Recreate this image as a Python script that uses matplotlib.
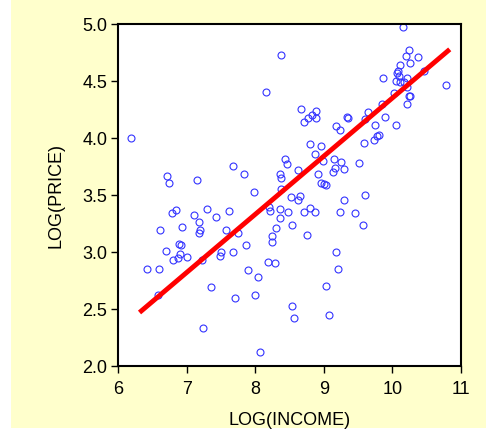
import numpy as np
import matplotlib
matplotlib.use("Agg")
import matplotlib.pyplot as plt
from matplotlib.patches import Rectangle

plt.rcParams['font.family'] = ['Liberation Sans', 'DejaVu Sans']

# points
log_income = [6.19, 8.38, 8.15, 7.68, 7.84, 6.71, 6.74, 7.15, 7.98, 8.44,
              8.47, 8.36, 8.37, 8.38, 10.16, 10.24, 10.20, 10.37, 10.26, 10.11,
              10.09, 10.07, 10.10, 10.06, 10.12, 10.21, 10.17, 10.21, 10.47, 9.86,
              10.79, 10.03, 10.26, 10.25, 10.21, 9.85, 9.65, 9.60, 9.90, 9.75,
              10.05, 9.80, 9.78, 9.74, 9.59, 9.52, 9.60, 8.67, 8.88, 8.77,
              8.83, 8.89, 8.71, 9.35, 9.34, 9.18, 9.24, 8.80, 8.96, 8.87,
              8.63, 8.91, 8.99, 9.15, 9.25, 9.17, 9.14, 9.30, 8.96, 9.00,
              9.03, 8.52, 8.66, 8.62, 9.29, 8.20, 8.21, 8.36, 8.48, 8.71,
              8.80, 8.87, 9.24, 9.45, 8.36, 8.53, 8.30, 8.25, 8.25, 8.75,
              9.58, 7.75, 7.86, 7.68, 9.18, 9.21, 9.03, 8.54, 8.57, 9.07,
              6.78, 6.84, 7.11, 7.30, 7.43, 7.61, 7.18, 7.18, 7.20, 6.61,
              6.93, 7.58, 6.88, 6.91, 6.70, 6.90, 6.87, 6.80, 7.01, 7.22,
              7.50, 7.48, 6.42, 6.59, 7.89, 8.04, 8.18, 8.29, 6.58, 7.35,
              7.71, 7.99, 7.23, 8.07]
log_price = [4.00, 4.73, 4.41, 3.76, 3.69, 3.67, 3.61, 3.63, 3.53, 3.82,
             3.77, 3.69, 3.65, 3.55, 4.98, 4.77, 4.72, 4.71, 4.66, 4.64,
             4.59, 4.57, 4.55, 4.50, 4.49, 4.53, 4.49, 4.45, 4.59, 4.53,
             4.47, 4.40, 4.37, 4.37, 4.30, 4.30, 4.23, 4.17, 4.19, 4.12,
             4.12, 4.03, 4.02, 3.98, 3.96, 3.78, 3.50, 4.26, 4.24, 4.18,
             4.20, 4.18, 4.14, 4.18, 4.19, 4.11, 4.07, 3.95, 3.93, 3.86,
             3.72, 3.69, 3.80, 3.82, 3.79, 3.74, 3.70, 3.73, 3.61, 3.60,
             3.59, 3.48, 3.49, 3.46, 3.46, 3.40, 3.36, 3.38, 3.35, 3.35,
             3.39, 3.35, 3.35, 3.34, 3.30, 3.24, 3.21, 3.14, 3.09, 3.15,
             3.24, 3.17, 3.06, 3.00, 3.00, 2.85, 2.70, 2.53, 2.42, 2.45,
             3.34, 3.37, 3.33, 3.38, 3.31, 3.36, 3.26, 3.17, 3.19, 3.19,
             3.22, 3.19, 3.07, 3.06, 3.01, 2.98, 2.95, 2.93, 2.96, 2.93,
             3.00, 2.97, 2.85, 2.85, 2.84, 2.78, 2.91, 2.90, 2.62, 2.69,
             2.60, 2.62, 2.33, 2.12]

# fitted line ends as drawn
fit_x = [6.31, 10.84]
fit_y = [2.47, 4.78]

x_ticks = [6, 7, 8, 9, 10, 11]
y_ticks = [2.0, 2.5, 3.0, 3.5, 4.0, 4.5, 5.0]

fig = plt.figure(figsize=(4.86, 4.30), dpi=100)
fig.patch.set_facecolor('white')
fig.patches.append(Rectangle((11/486, 0.005), 1, 1, transform=fig.transFigure,
                             facecolor='#FFFFCC', edgecolor='none', zorder=-10))

ax = fig.add_axes([0.2434, 0.1488, 0.7045, 0.7947])
ax.set_zorder(1)
ax.set_facecolor('white')
ax.plot(log_income, log_price, linestyle='none', marker='o', markersize=5,
        markerfacecolor='none', markeredgecolor='#3333FF', markeredgewidth=0.8)
ax.plot(fit_x, fit_y, color='#FF0000', linewidth=3.5, solid_capstyle='butt')

ax.set_xlim(6, 11)
ax.set_ylim(2, 5)
ax.set_xticks(x_ticks)
ax.set_yticks(y_ticks)
ax.set_yticklabels(['%.1f' % v for v in y_ticks])
ax.tick_params(direction='out', length=5, width=1, labelsize=13, pad=3)
ax.tick_params(axis='x', pad=6)
ax.tick_params(top=False, right=False)
for s in ax.spines.values():
    s.set_linewidth(1.5)

ax.set_xlabel('LOG(INCOME)', fontsize=13, labelpad=10)
ax.set_ylabel('LOG(PRICE)', fontsize=13, labelpad=13)

fig.savefig('out.png', dpi=100)
